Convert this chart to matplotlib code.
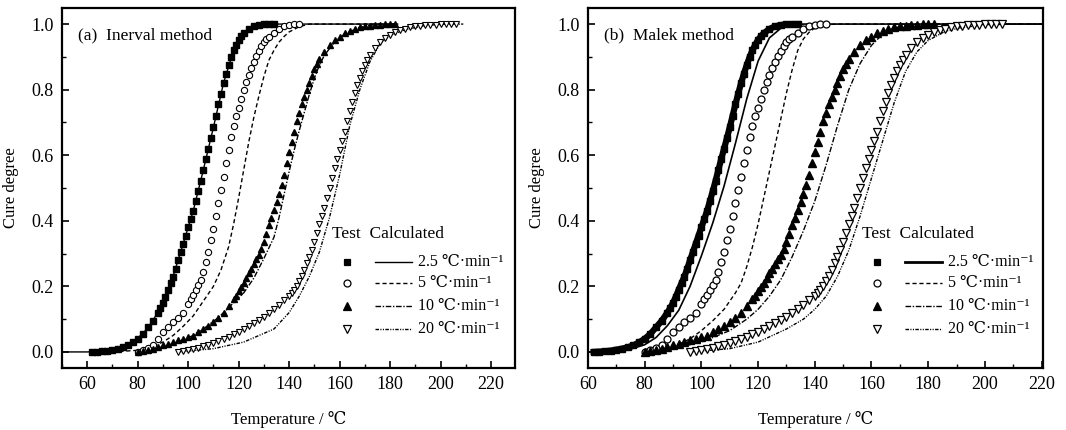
import matplotlib
matplotlib.use("Agg")
from matplotlib import pyplot as plt
from matplotlib.ticker import MultipleLocator

plt.rcParams['font.family'] = ['Liberation Serif', 'DejaVu Serif', 'Noto Sans CJK SC']

# ---- test data (same experiments in both panels) ----
sq_T = [62, 64, 66, 68, 70, 72, 74, 76, 78, 80, 82, 84, 86, 88,
        89, 90, 91, 92, 93, 94, 95, 96, 97, 98, 99, 100, 101, 102, 103, 104, 105,
        106, 107, 108, 109, 110, 111, 112, 113, 114, 115, 116, 117, 118, 119, 120,
        121, 122, 124, 126, 128, 130, 132, 134]
sq_a = [0.000, 0.001, 0.002, 0.004, 0.007, 0.010, 0.014, 0.020, 0.029, 0.040, 0.055, 0.075, 0.095, 0.120,
        0.134, 0.150, 0.169, 0.190, 0.210, 0.230, 0.254, 0.280, 0.305, 0.330, 0.355, 0.380, 0.405, 0.430,
        0.460, 0.490, 0.522, 0.555, 0.588, 0.620, 0.652, 0.685, 0.720, 0.755, 0.788, 0.820, 0.849, 0.875,
        0.899, 0.920, 0.937, 0.952, 0.963, 0.972, 0.985, 0.993, 0.997, 0.999, 1.000, 1.000]

ci_T = [80, 82, 84, 86, 88, 90, 92, 94, 96, 98, 100,
        101, 102, 103, 104, 105, 106, 107, 108, 109, 110, 111, 112, 113, 114, 115, 116,
        117, 118, 119, 120, 121, 122, 123, 124, 125, 126, 127, 128, 129, 130, 131, 132,
        134, 136, 138, 140, 142, 144]
ci_a = [0.000, 0.005, 0.012, 0.022, 0.040, 0.060, 0.075, 0.090, 0.105, 0.120, 0.145,
        0.160, 0.175, 0.190, 0.205, 0.220, 0.245, 0.275, 0.305, 0.340, 0.375,
        0.415, 0.455, 0.495, 0.535, 0.575, 0.615, 0.655, 0.690, 0.720, 0.745,
        0.772, 0.798, 0.822, 0.845, 0.865, 0.884, 0.902, 0.918, 0.932, 0.944,
        0.953, 0.960, 0.974, 0.986, 0.993, 0.998, 1.000, 1.000]

tr_T = [80, 82, 84, 86, 88, 90, 92, 94, 96, 98, 100, 102, 104, 106, 108, 110, 112, 114, 116, 118,
        119, 120, 121, 122, 123, 124, 125, 126, 127, 128, 129, 130, 131, 132, 133, 134, 135,
        136, 137, 138, 139, 140, 141, 142, 143, 144, 145, 146, 147, 148, 149, 150, 151,
        152, 154, 156, 158, 160, 162, 164, 166, 168, 170, 172, 174, 176, 178, 180, 182]
tr_a = [0.000, 0.003, 0.006, 0.010, 0.015, 0.020, 0.025, 0.030, 0.035, 0.040, 0.045, 0.050, 0.060,
        0.070, 0.080, 0.090, 0.103, 0.120, 0.140, 0.160,
        0.172, 0.185, 0.198, 0.211, 0.225, 0.240, 0.254, 0.268, 0.282, 0.297,
        0.313, 0.335, 0.360, 0.387, 0.410, 0.434, 0.458, 0.482, 0.510, 0.540,
        0.575, 0.610, 0.640, 0.672, 0.704, 0.730, 0.755, 0.777, 0.798, 0.820,
        0.843, 0.862, 0.878,
        0.892, 0.916, 0.935, 0.950, 0.962, 0.972, 0.979, 0.985, 0.990, 0.993, 0.995, 0.997,
        0.998, 0.999, 1.000, 1.000]

iv_T = [96, 98, 100, 102, 104, 106, 108, 110, 112, 114, 116, 118, 120, 122, 124, 126, 128, 130,
        132, 134, 136, 138, 140,
        141, 142, 143, 144, 145, 146, 147, 148, 149, 150, 151, 152, 153, 154, 155, 156, 157,
        158, 159, 160, 161, 162, 163, 164, 165, 166, 167, 168, 169, 170, 171,
        172, 174, 176, 178, 180, 182, 184, 186, 188, 190, 192, 194, 196, 198, 200, 202, 204, 206]
iv_a = [0.000, 0.002, 0.005, 0.008, 0.012, 0.017, 0.022, 0.028, 0.034, 0.040, 0.047, 0.054, 0.062,
        0.070, 0.078, 0.087, 0.097, 0.107, 0.118, 0.130, 0.143, 0.157, 0.172,
        0.180, 0.190, 0.202, 0.215, 0.232, 0.250, 0.270, 0.290, 0.312, 0.335,
        0.362, 0.390, 0.415, 0.440, 0.470, 0.500, 0.530, 0.560, 0.587, 0.615,
        0.642, 0.670, 0.703, 0.735, 0.763, 0.790, 0.813, 0.835, 0.856, 0.875, 0.890,
        0.905, 0.928, 0.945, 0.958, 0.968, 0.975, 0.981, 0.986, 0.990, 0.993, 0.995, 0.996,
        0.997, 0.998, 0.999, 1.000, 1.000, 1.000]

# ---- calculated curves, (a) Inerval method ----
ca25_T = [50, 60, 66, 70, 74, 78, 82, 86, 90, 94, 98, 102, 106, 110, 114, 118, 122, 126, 130, 134, 183]
ca25_a = [0, 0, 0.002, 0.007, 0.015, 0.031, 0.055, 0.095, 0.15, 0.23, 0.33, 0.43, 0.555, 0.685,
          0.82, 0.92, 0.972, 0.993, 0.999, 1.0, 1.0]
ca5_T = [70, 80, 86, 90, 94, 98, 102, 106, 110, 113, 116, 118, 120, 122, 124, 126, 128, 130, 132,
         134, 136, 138, 140, 144, 148, 183]
ca5_a = [0, 0.005, 0.018, 0.03, 0.05, 0.078, 0.11, 0.155, 0.2, 0.25, 0.32, 0.39, 0.47, 0.555,
         0.64, 0.715, 0.78, 0.84, 0.89, 0.92, 0.945, 0.962, 0.976, 0.992, 1.0, 1.0]
ca10_T = [80, 90, 100, 106, 112, 118, 122, 126, 130, 134, 136, 138, 140, 142, 144, 146, 148, 150,
          152, 154, 158, 162, 168, 175, 183]
ca10_a = [0, 0.015, 0.042, 0.07, 0.105, 0.15, 0.18, 0.225, 0.285, 0.35, 0.41, 0.48, 0.55, 0.615,
          0.675, 0.73, 0.785, 0.835, 0.875, 0.905, 0.945, 0.97, 0.99, 1.0, 1.0]
ca20_T = [96, 110, 122, 134, 140, 144, 148, 152, 156, 160, 164, 168, 172, 176, 180, 186, 194, 200, 209]
ca20_a = [0, 0.01, 0.03, 0.07, 0.12, 0.17, 0.23, 0.305, 0.41, 0.54, 0.69, 0.8, 0.885, 0.94, 0.965,
          0.983, 0.996, 0.999, 1.0]

# ---- calculated curves, (b) Malek method ----
cb25_T = [60, 66, 70, 76, 80, 84, 88, 92, 96, 100, 104, 108, 112, 116, 120, 124, 128, 132, 136, 220]
cb25_a = [0, 0.001, 0.003, 0.011, 0.022, 0.044, 0.08, 0.127, 0.2, 0.293, 0.393, 0.506, 0.636,
          0.772, 0.887, 0.958, 0.987, 0.998, 1.0, 1.0]
cb5_T = [80, 90, 96, 100, 104, 108, 112, 114, 116, 118, 120, 122, 124, 126, 128, 130, 132, 134,
         136, 138, 140, 144, 148, 220]
cb5_a = [0, 0.015, 0.04, 0.065, 0.095, 0.13, 0.18, 0.21, 0.26, 0.32, 0.39, 0.47, 0.55, 0.63, 0.71,
         0.79, 0.86, 0.92, 0.955, 0.975, 0.988, 0.998, 1.0, 1.0]
cb10_T = [80, 90, 100, 110, 116, 120, 124, 128, 132, 136, 140, 144, 148, 152, 156, 160, 164, 168,
          174, 180, 220]
cb10_a = [0, 0.01, 0.03, 0.065, 0.1, 0.13, 0.17, 0.22, 0.29, 0.37, 0.46, 0.57, 0.69, 0.8, 0.88,
          0.935, 0.97, 0.988, 0.998, 1.0, 1.0]
cb20_T = [96, 110, 120, 130, 136, 140, 144, 148, 152, 156, 160, 164, 168, 172, 176, 180, 186, 192,
          200, 208, 220]
cb20_a = [0, 0.01, 0.03, 0.07, 0.1, 0.13, 0.17, 0.23, 0.31, 0.415, 0.53, 0.645, 0.76, 0.855, 0.915,
          0.95, 0.978, 0.99, 0.997, 1.0, 1.0]

rates = ['2.5', '5', '10', '20']
D_DASH = (3, 2)
D_DOT = (4, 1.2, 1, 1.2)
D_DDOT = (2.5, 1, 0.8, 1, 0.8, 1)


def style_axes(ax, xlim):
    ax.set_xlim(*xlim)
    ax.set_ylim(-0.049, 1.049)
    ax.xaxis.set_major_locator(MultipleLocator(20))
    ax.xaxis.set_minor_locator(MultipleLocator(10))
    ax.yaxis.set_major_locator(MultipleLocator(0.2))
    ax.yaxis.set_minor_locator(MultipleLocator(0.1))
    ax.yaxis.set_major_formatter(plt.FormatStrFormatter('%.1f'))
    ax.tick_params(which='major', direction='in', length=5, width=1.2, labelsize=13, pad=6)
    ax.tick_params(which='minor', direction='in', length=3, width=1.0)
    ax.tick_params(top=False, right=False)
    for s in ax.spines.values():
        s.set_linewidth(1.6)
    ax.set_xlabel('Temperature / ℃', fontsize=12, labelpad=13)
    ax.set_ylabel('Cure degree', fontsize=12, labelpad=9)


def draw_key(ax, xh, xm, xl0, xl1, xt, lw25):
    ax.text(xh, 0.372, 'Test  Calculated', transform=ax.transAxes, fontsize=12.5, va='center')
    ys = [0.295, 0.235, 0.172, 0.108]
    marks = [dict(marker='s', mfc='k', ms=5), dict(marker='o', mfc='w', ms=5),
             dict(marker='^', mfc='k', ms=6), dict(marker='v', mfc='w', ms=6)]
    dashes = [None, D_DASH, D_DOT, D_DDOT]
    for y, m, d, r in zip(ys, marks, dashes, rates):
        ax.plot([xm], [y], transform=ax.transAxes, color='k', mec='k', mew=0.9, ls='none', **m)
        ln, = ax.plot([xl0, xl1], [y, y], transform=ax.transAxes, color='k',
                      lw=lw25 if d is None else 1.0)
        if d is not None:
            ln.set_dashes(d)
        ax.text(xt, y, r + ' ℃·min⁻¹', transform=ax.transAxes, fontsize=11.5, va='center')


fig = plt.figure(figsize=(10.66, 4.30), dpi=100)
ax1 = fig.add_axes([62 / 1066, 62 / 430, 453 / 1066, 360 / 430])
ax2 = fig.add_axes([588 / 1066, 62 / 430, 455 / 1066, 360 / 430])

# (a)
ax1.plot(ca25_T, ca25_a, color='k', lw=1.0)
ax1.plot(ca5_T, ca5_a, color='k', lw=1.0, dashes=D_DASH)
ax1.plot(ca10_T, ca10_a, color='k', lw=1.0, dashes=D_DOT)
ax1.plot(ca20_T, ca20_a, color='k', lw=1.0, dashes=D_DDOT)
ax1.plot(sq_T, sq_a, ls='none', marker='s', ms=4.5, mfc='k', mec='k')
ax1.plot(ci_T, ci_a, ls='none', marker='o', ms=4.5, mfc='w', mec='k', mew=0.8)
ax1.plot(tr_T, tr_a, ls='none', marker='^', ms=5, mfc='k', mec='k')
ax1.plot(iv_T, iv_a, ls='none', marker='v', ms=5, mfc='w', mec='k', mew=0.8)
style_axes(ax1, (50, 229.5))
ax1.text(0.035, 0.912, '(a)  Inerval method', transform=ax1.transAxes, fontsize=12.5)
draw_key(ax1, 0.596, 0.629, 0.691, 0.773, 0.786, 1.0)

# (b)
ax2.plot(cb25_T, cb25_a, color='k', lw=1.2)
ax2.plot(cb5_T, cb5_a, color='k', lw=1.0, dashes=D_DASH)
ax2.plot(cb10_T, cb10_a, color='k', lw=1.0, dashes=D_DOT)
ax2.plot(cb20_T, cb20_a, color='k', lw=1.0, dashes=D_DDOT)
ax2.plot(sq_T, sq_a, color='k', lw=4.5, marker='s', ms=5, mfc='k', mec='k')
ax2.plot(ci_T, ci_a, ls='none', marker='o', ms=5, mfc='w', mec='k', mew=0.9)
ax2.plot(tr_T, tr_a, ls='none', marker='^', ms=5.5, mfc='k', mec='k')
ax2.plot(iv_T, iv_a, ls='none', marker='v', ms=5.5, mfc='w', mec='k', mew=0.9)
style_axes(ax2, (60, 220.5))
ax2.text(0.035, 0.912, '(b)  Malek method', transform=ax2.transAxes, fontsize=12.5)
draw_key(ax2, 0.602, 0.635, 0.697, 0.778, 0.791, 2.0)

fig.savefig('out.png', dpi=100)
